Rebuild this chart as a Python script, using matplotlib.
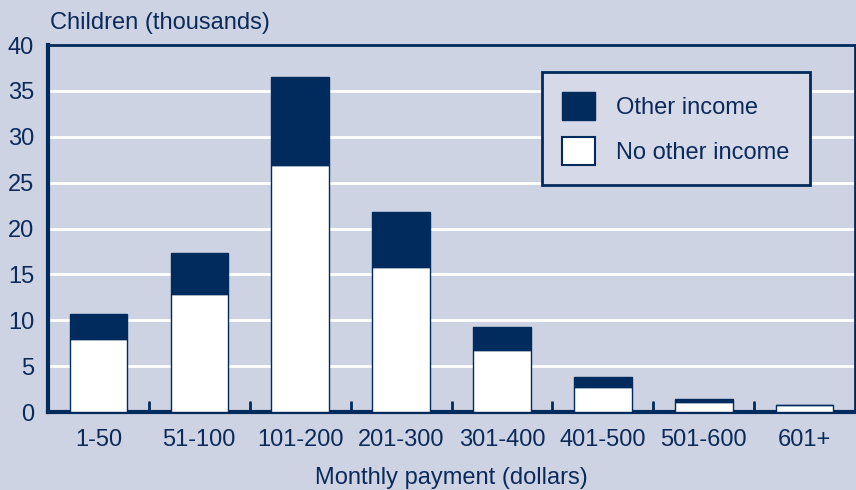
import numpy as np
import matplotlib
matplotlib.use('Agg')
import matplotlib.pyplot as plt
from matplotlib.patches import Patch

categories = ['1-50', '51-100', '101-200', '201-300', '301-400', '401-500', '501-600', '601+']
no_other = [8.0, 12.9, 26.9, 15.8, 6.8, 2.7, 1.1, 0.75]
other = [2.7, 4.4, 9.6, 6.0, 2.5, 1.1, 0.3, 0.05]

navy = '#002B5C'
bg = '#CDD3E3'
textc = '#0B2A5A'
fs = 17

plt.rcParams['font.family'] = ['Liberation Sans', 'DejaVu Sans']

fig = plt.figure(figsize=(8.56, 4.90), dpi=100, facecolor=bg)
ax = fig.add_axes([0.056, 0.159, 0.943, 0.749], facecolor=bg)

x = np.arange(len(categories))
w = 0.57
ax.bar(x, no_other, w, color='white', edgecolor=navy, linewidth=1.0, zorder=3)
ax.bar(x, other, w, bottom=no_other, color=navy, edgecolor=navy, linewidth=1.0, zorder=3)

ax.set_xlim(-0.5, len(categories) - 0.5)
ax.set_ylim(0, 40)
ax.set_yticks(range(0, 41, 5))
ax.tick_params(axis='y', length=0, labelsize=fs, labelcolor=textc, pad=10)
ax.set_xticks(x)
ax.set_xticklabels(categories)
ax.tick_params(axis='x', length=0, labelsize=fs, labelcolor=textc, pad=12)
ax.set_xticks(x[:-1] + 0.5, minor=True)
ax.tick_params(axis='x', which='minor', direction='in', length=8, width=2, color=navy)

for yv in range(5, 40, 5):
    ax.axhline(yv, color='white', linewidth=2, zorder=1)

for side in ['left', 'bottom']:
    ax.spines[side].set_color(navy)
    ax.spines[side].set_linewidth(3)
for side in ['top', 'right']:
    ax.spines[side].set_color(navy)
    ax.spines[side].set_linewidth(2)

ax.set_xlabel('Monthly payment (dollars)', fontsize=fs, color=textc, labelpad=12)
fig.text(0.058, 0.93, 'Children (thousands)', fontsize=fs, color=textc, ha='left', va='bottom')

handles = [Patch(facecolor=navy, edgecolor=navy, label='Other income'),
           Patch(facecolor='white', edgecolor=navy, linewidth=1.5, label='No other income')]
leg = ax.legend(handles=handles, loc='upper right', bbox_to_anchor=(0.944, 0.926),
                borderaxespad=0, fontsize=fs, frameon=True, fancybox=False,
                handlelength=1.4, handleheight=1.4, handletextpad=0.9,
                labelspacing=0.75, borderpad=0.85, labelcolor=textc)
leg.get_frame().set_facecolor('#D5D9E8')
leg.get_frame().set_edgecolor(navy)
leg.get_frame().set_linewidth(2)
leg.get_frame().set_alpha(1)
leg.set_zorder(5)

fig.savefig('out.png', dpi=100, facecolor=bg)
